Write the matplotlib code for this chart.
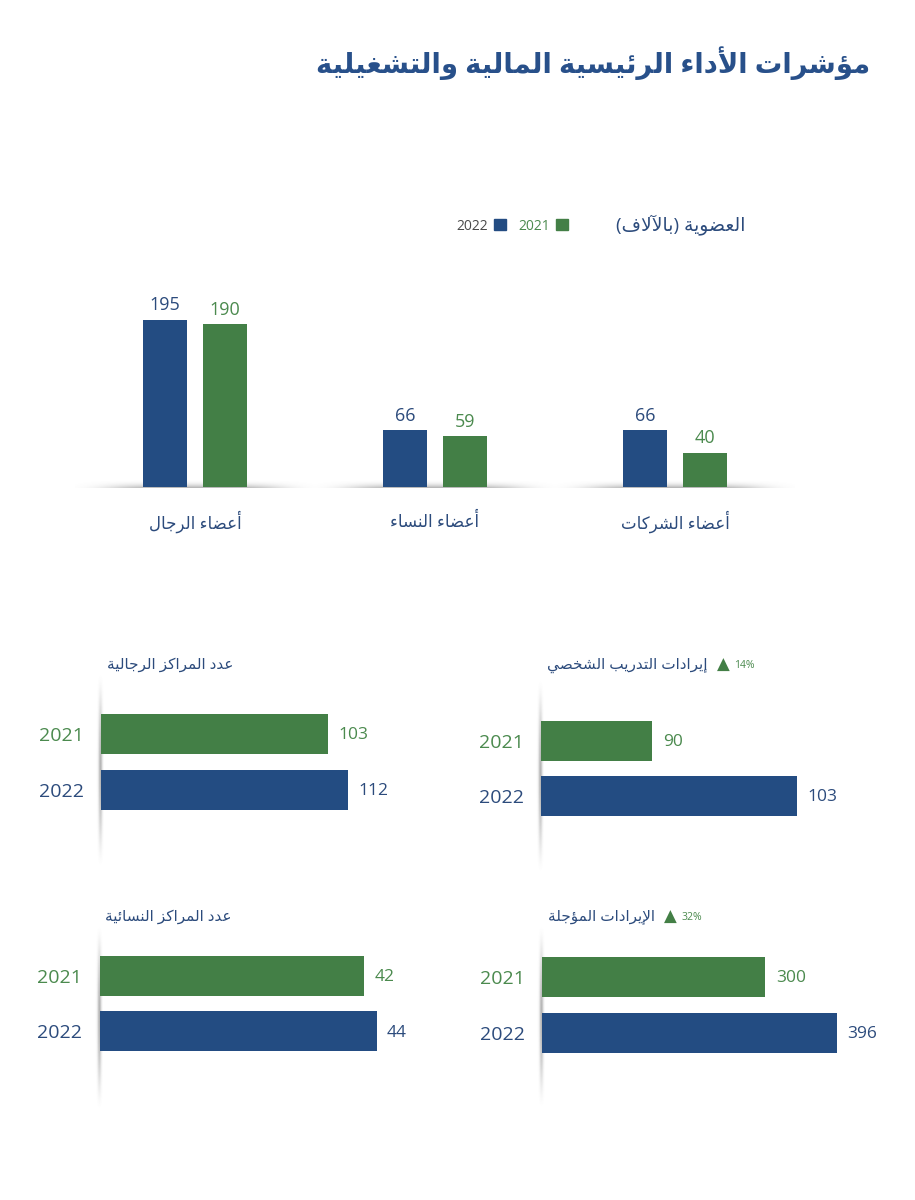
import numpy as np
import matplotlib
matplotlib.use('Agg')
import matplotlib.pyplot as plt
import matplotlib.patches as mpatches

plt.rcParams['font.family'] = ['Open Sans', 'DejaVu Sans']

BLUE = '#234c82'
GREEN = '#437f46'
TEXT_BLUE = '#2c4b7c'
TEXT_GREEN = '#4b8a4e'
TITLE_BLUE = '#28508a'
W, H = 915, 1200

# ---- data ----
TITLE = 'مؤشرات الأداء الرئيسية المالية والتشغيلية'
MEMBERSHIP_TITLE = 'العضوية (بالآلاف)'
member_groups = ['أعضاء الرجال', 'أعضاء النساء', 'أعضاء الشركات']
members_2022 = [195, 66, 66]
members_2021 = [190, 59, 40]
legend_labels = ['2022', '2021']

years = ['2021', '2022']
panel_titles = ['عدد المراكز الرجالية', 'إيرادات التدريب الشخصي',
                'عدد المراكز النسائية', 'الإيرادات المؤجلة']
panel_2021 = [103, 90, 42, 300]
panel_2022 = [112, 103, 44, 396]
panel_growth = [None, '14%', None, '32%']


# ---- simple arabic shaping (matplotlib does no shaping / RTL) ----
_ORDER = 'ءآأؤإئابةتثجحخدذرزسشصضطظعغفقكلمنهوىي'
_RIGHT_ONLY = set('آأؤإادذرزوىة')
FORMS = {}
_code = 0xFE80
for _ch in _ORDER:
    _n = 1 if _ch == 'ء' else (2 if _ch in _RIGHT_ONLY else 4)
    FORMS[_ch] = [chr(_code + k) for k in range(_n)]
    _code += _n
LAM_ALEF = {'آ': 0xFEF5, 'أ': 0xFEF7, 'إ': 0xFEF9, 'ا': 0xFEFB}


def joins_next(ch):
    return ch in FORMS and len(FORMS[ch]) == 4


def joins_prev(ch):
    return ch in FORMS and len(FORMS[ch]) >= 2


def ar(text):
    out = []
    i = 0
    n = len(text)
    while i < n:
        ch = text[i]
        link_prev = i > 0 and joins_next(text[i - 1]) and joins_prev(ch)
        if ch == 'ل' and i + 1 < n and text[i + 1] in LAM_ALEF:
            out.append(chr(LAM_ALEF[text[i + 1]] + (1 if link_prev else 0)))
            i += 2
            continue
        if ch not in FORMS:
            out.append(ch)
            i += 1
            continue
        f = FORMS[ch]
        link_next = joins_next(ch) and i + 1 < n and joins_prev(text[i + 1])
        if link_prev and link_next:
            out.append(f[3])
        elif link_prev:
            out.append(f[1])
        elif link_next:
            out.append(f[2])
        else:
            out.append(f[0])
        i += 1
    s = ''.join(out)[::-1]
    return s.translate(str.maketrans('()', ')('))


def px_rect(x0, y0, x1, y1):
    return [x0 / W, 1 - y1 / H, (x1 - x0) / W, (y1 - y0) / H]


fig = plt.figure(figsize=(W / 100, H / 100), dpi=100)
fig.patch.set_facecolor('white')

fig.text(870 / W, 1 - 63 / H, ar(TITLE), ha='right', va='center',
         fontsize=19.8, fontweight='bold', color=TITLE_BLUE)

# ---- membership chart ----
ax = fig.add_axes(px_rect(75, 290, 795, 487))
x = np.arange(len(member_groups))
bw = 0.183
b22 = ax.bar(x - 0.125, members_2022, bw, color=BLUE, zorder=3)
b21 = ax.bar(x + 0.125, members_2021, bw, color=GREEN, zorder=3)
ax.bar_label(b22, padding=4, fontsize=13, color=TEXT_BLUE)
ax.bar_label(b21, padding=4, fontsize=13, color=TEXT_GREEN)
for g, name in zip(x, member_groups):
    ax.annotate(ar(name), xy=(g, 0), xytext=(0, -35 * 0.72), textcoords='offset points',
                ha='center', va='center', fontsize=12, color=TEXT_BLUE)
ax.set_xticks([])
ax.set_yticks([])
for s in ax.spines.values():
    s.set_visible(False)

# soft ground shadow under each group
gx = np.linspace(-1, 1, 240)
gy = np.linspace(0, 1, 30)
alpha = np.exp(-(gx[None, :] / 0.72) ** 4) * (1 - gy[:, None]) ** 2.2 * 0.55
shade = np.zeros((len(gy), len(gx), 4))
shade[..., :3] = 0.45
shade[..., 3] = alpha
for g in x:
    ax.imshow(shade, extent=[g - 0.5, g + 0.5, -0.6, 9], origin='lower',
              aspect='auto', zorder=1, interpolation='bilinear', clip_on=False)
ax.set_xlim(-0.5, len(member_groups) - 0.5)
ax.set_ylim(0, 230)

fig.text(745 / W, 1 - 225 / H, ar(MEMBERSHIP_TITLE), ha='right', va='center',
         fontsize=13.5, color=TEXT_BLUE)
handles = [mpatches.Patch(color=BLUE), mpatches.Patch(color=GREEN)]
fig.legend(handles, legend_labels, loc='center right',
           bbox_to_anchor=(568 / W, 1 - 226 / H), ncol=2, markerfirst=False,
           frameon=False, fontsize=10, handlelength=0.85, handleheight=0.85,
           handletextpad=0.45, columnspacing=0.9, borderpad=0, borderaxespad=0,
           labelcolor=['#4a4a4a', TEXT_GREEN])

# ---- small horizontal panels ----
# (axis x, top, bottom, centre of first bar, xmax, xmin, title offset)
layout = [
    (101, 673, 867, 734, 154.2, 0, 8),
    (541, 679, 873, 740.5, 110.5, 80, 14),
    (99.5, 925, 1110, 975.7, 54.0, 0, 8),
    (542, 925, 1108, 977, 456.4, 0, 8),
]
PANEL_W = 340
STEP = 55.5

vy = np.linspace(0, 1, 200)
vx = np.linspace(-5, 3, 16)
va = (np.sin(np.pi * vy[:, None]) ** 1.4) * np.exp(-((vx[None, :] + 0.5) / 2.0) ** 2) * 0.5
vshade = np.zeros((len(vy), len(vx), 4))
vshade[..., :3] = 0.4
vshade[..., 3] = va

for i, (axx, top, bot, c0, xmax, xmin, toff) in enumerate(layout):
    pa = fig.add_axes(px_rect(axx, top, axx + PANEL_W, bot))
    pa.set_facecolor('none')
    ph = bot - top
    pa.imshow(vshade, extent=[-5 / PANEL_W, 3 / PANEL_W, 0, 1], origin='lower',
              transform=pa.transAxes, aspect='auto', zorder=1,
              interpolation='bilinear', clip_on=False)
    vals = [panel_2021[i], panel_2022[i]]
    ypos = np.arange(len(years))
    bars = pa.barh(ypos, vals, height=40 / STEP, color=[GREEN, BLUE], zorder=3)
    for b, v, c in zip(bars, vals, [TEXT_GREEN, TEXT_BLUE]):
        pa.annotate(str(v), xy=(b.get_x() + b.get_width(), b.get_y() + b.get_height() / 2),
                    xytext=(7.5, -1), textcoords='offset points', ha='left', va='center',
                    fontsize=12.5, color=c)
    ytop = -(c0 - top) / STEP
    pa.set_ylim(ytop + ph / STEP, ytop)
    pa.set_xlim(xmin, xmax)
    pa.set_yticks(ypos, years, fontsize=14)
    for lbl, c in zip(pa.get_yticklabels(), [TEXT_GREEN, TEXT_BLUE]):
        lbl.set_color(c)
    pa.tick_params(axis='y', length=0, pad=12.5)
    pa.set_xticks([])
    for s in pa.spines.values():
        s.set_visible(False)
    t = pa.annotate(ar(panel_titles[i]), xy=(0, 1), xycoords='axes fraction',
                    xytext=(4, toff * 0.72), textcoords='offset points',
                    ha='left', va='center', fontsize=11, color=TEXT_BLUE)
    if panel_growth[i]:
        tri = pa.annotate('▲', xy=(1, 0.5), xycoords=t, xytext=(7, 0),
                          textcoords='offset points', ha='left', va='center',
                          fontsize=12, color=GREEN, family='DejaVu Sans')
        pa.annotate(panel_growth[i], xy=(1, 0.5), xycoords=tri, xytext=(3, 0),
                    textcoords='offset points', ha='left', va='center',
                    fontsize=7.5, color=TEXT_GREEN)

fig.savefig('out.png', dpi=100, facecolor='white')
